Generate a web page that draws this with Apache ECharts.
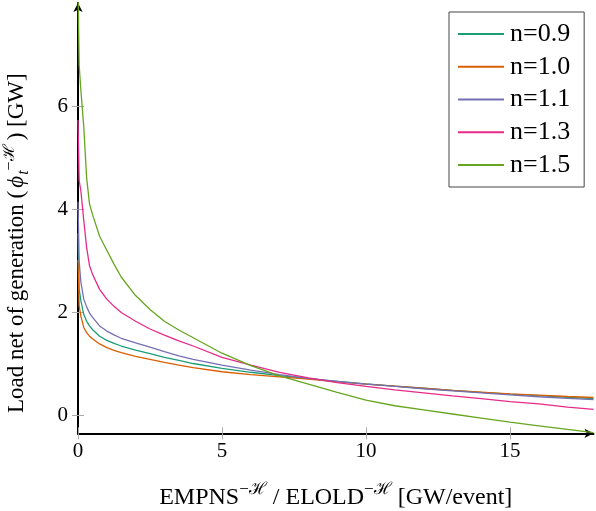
<!DOCTYPE html>
<html><head><meta charset="utf-8">
<script src="https://cdn.jsdelivr.net/npm/echarts@6/dist/echarts.min.js"></script>
<style>html,body{margin:0;padding:0;background:#fff}#c{width:596px;height:511px}</style>
</head><body><div id="c"></div>
<script>
const xValues = [0, 0.04, 0.1, 0.2, 0.3, 0.4, 0.5, 0.75, 1, 1.25, 1.5, 2, 2.5, 3, 3.5, 4, 5, 6, 7, 8, 9, 10, 11, 12, 13, 14, 15, 16, 17, 17.9];
const n09 = [3.53, 2.45, 2.22, 1.95, 1.82, 1.73, 1.66, 1.53, 1.45, 1.39, 1.34, 1.26, 1.19, 1.12, 1.06, 1.00, 0.905, 0.83, 0.765, 0.705, 0.655, 0.605, 0.56, 0.52, 0.48, 0.44, 0.405, 0.375, 0.345, 0.32];
const n10 = [3.01, 2.12, 1.92, 1.70, 1.60, 1.53, 1.48, 1.38, 1.31, 1.255, 1.21, 1.14, 1.08, 1.02, 0.97, 0.92, 0.84, 0.785, 0.74, 0.695, 0.645, 0.60, 0.56, 0.52, 0.48, 0.445, 0.41, 0.385, 0.36, 0.34];
const n11 = [4.14, 2.98, 2.58, 2.25, 2.10, 1.98, 1.90, 1.73, 1.63, 1.555, 1.49, 1.40, 1.32, 1.23, 1.15, 1.08, 0.97, 0.87, 0.785, 0.71, 0.655, 0.60, 0.555, 0.51, 0.47, 0.43, 0.39, 0.355, 0.325, 0.30];
const n13 = [5.73, 4.55, 4.35, 3.78, 3.25, 2.90, 2.74, 2.44, 2.25, 2.11, 1.99, 1.82, 1.67, 1.55, 1.44, 1.34, 1.12, 0.97, 0.83, 0.72, 0.63, 0.555, 0.49, 0.43, 0.37, 0.32, 0.26, 0.215, 0.155, 0.11];
const n15 = [8.3, 6.8, 6.3, 5.6, 4.6, 4.1, 3.9, 3.47, 3.2, 2.93, 2.68, 2.32, 2.05, 1.82, 1.65, 1.50, 1.20, 0.96, 0.76, 0.60, 0.44, 0.29, 0.18, 0.10, 0.02, -0.06, -0.14, -0.21, -0.28, -0.34];
const seriesNames = ['n=0.9', 'n=1.0', 'n=1.1', 'n=1.3', 'n=1.5'];
const seriesValues = [n09, n10, n11, n13, n15];
const colors = ['#1b9e77', '#d95f02', '#7570b3', '#e7298a', '#66a61e'];
const xTicks = [0, 5, 10, 15];
const yTicks = [0, 2, 4, 6];
const X_MIN = 0, X_MAX = 17.9, Y_MIN = -0.355, Y_MAX = 8;

const font = '"Liberation Serif", "DejaVu Serif", serif';
const chart = echarts.init(document.getElementById('c'));
const tickStyle = {color: '#aaaaaa', width: 1};
chart.setOption({
  animation: false,
  color: colors,
  textStyle: {fontFamily: font},
  grid: {left: 78, right: 2.5, top: 3, bottom: 77.7, containLabel: false, outerBoundsMode: 'none'},
  legend: {
    orient: 'vertical', left: 449, top: 12,
    padding: [9, 14, 9, 9], itemGap: 6.75, itemWidth: 46, itemHeight: 2,
    icon: 'rect',
    borderColor: '#444', borderWidth: 1, backgroundColor: '#fff',
    textStyle: {fontFamily: font, fontSize: 26, color: '#000', lineHeight: 24, padding: [0, 0, 0, 1]},
    data: seriesNames
  },
  xAxis: [{
    type: 'value', min: X_MIN, max: X_MAX, position: 'bottom',
    axisLine: {show: true, onZero: false, lineStyle: {color: '#000', width: 2}, symbol: ['none', 'arrow'], symbolSize: [7, 9]},
    axisTick: {show: true, inside: false, length: 6, lineStyle: tickStyle, customValues: xTicks},
    axisLabel: {fontFamily: font, fontSize: 21, color: '#000', margin: 8, customValues: xTicks},
    splitLine: {show: false},
    name: 'EMPNS{sup|−ℋ} / ELOLD{sup|−ℋ} [GW/event]',
    nameLocation: 'middle', nameGap: 48,
    nameTextStyle: {fontFamily: font, fontSize: 24, color: '#000', rich: {sup: {fontFamily: font, fontSize: 17, verticalAlign: 'top', lineHeight: 32, padding: [0, 0, 12, 0]}}}
  }, {
    type: 'value', min: X_MIN, max: X_MAX, position: 'bottom',
    axisLine: {show: false, onZero: false},
    axisTick: {show: true, inside: true, length: 6, lineStyle: tickStyle, customValues: xTicks},
    axisLabel: {show: false},
    splitLine: {show: false}
  }],
  yAxis: [{
    type: 'value', min: Y_MIN, max: Y_MAX, position: 'left',
    axisLine: {show: true, onZero: false, lineStyle: {color: '#000', width: 2}, symbol: ['none', 'arrow'], symbolSize: [7, 9]},
    axisTick: {show: true, inside: false, length: 6, lineStyle: tickStyle, customValues: yTicks},
    axisLabel: {fontFamily: font, fontSize: 21, color: '#000', margin: 10, customValues: yTicks},
    splitLine: {show: false},
    name: 'Load net of generation ({phi|ϕ}{sub|t}{sup|−ℋ}) [GW]',
    nameLocation: 'middle', nameGap: 46,
    nameTextStyle: {fontFamily: font, fontSize: 23, color: '#000', padding: [0, 50, 0, 0],
      rich: {
        phi: {fontFamily: font, fontSize: 23, fontStyle: 'italic', padding: [0, 1, 0, 3]},
        sub: {fontFamily: font, fontSize: 16, fontStyle: 'italic', verticalAlign: 'bottom', lineHeight: 30},
        sup: {fontFamily: font, fontSize: 16, verticalAlign: 'top', lineHeight: 30, padding: [0, 4, 0, 0]}
      }}
  }, {
    type: 'value', min: Y_MIN, max: Y_MAX, position: 'left',
    axisLine: {show: false, onZero: false},
    axisTick: {show: true, inside: true, length: 6, lineStyle: tickStyle, customValues: yTicks},
    axisLabel: {show: false},
    splitLine: {show: false}
  }],
  series: seriesNames.map((name, i) => ({
    name: name,
    type: 'line',
    xAxisIndex: 0, yAxisIndex: 0,
    showSymbol: false, symbol: 'none',
    clip: true,
    lineStyle: {width: 1.3, color: colors[i]},
    itemStyle: {color: colors[i]},
    data: xValues.map((x, j) => [x, seriesValues[i][j]])
  }))
});
</script>
</body></html>
